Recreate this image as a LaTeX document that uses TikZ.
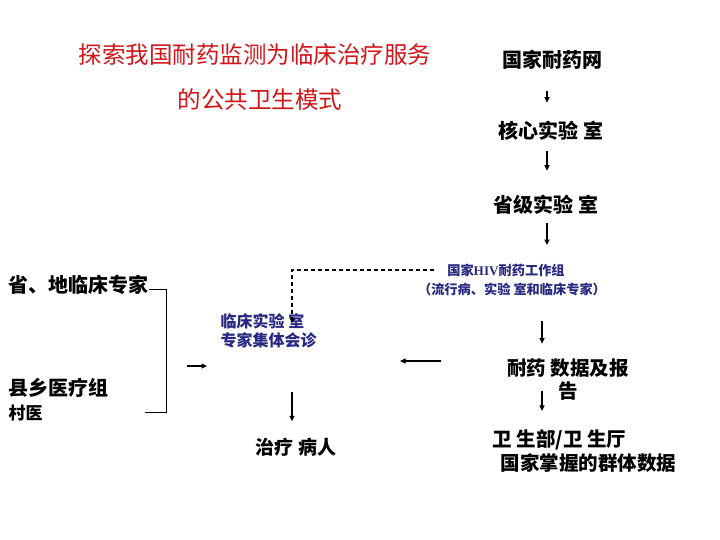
\documentclass[tikz,border=0pt]{standalone}
\usepackage{fontspec}
\usetikzlibrary{arrows.meta}
\setmainfont{Noto Sans CJK SC}
\newfontfamily\hivfont{Liberation Serif}
\definecolor{titlered}{RGB}{208,22,26}
\definecolor{navyblue}{RGB}{40,40,130}
\tikzset{
  titletext/.style={inner sep=0pt,text=titlered,font=\fontsize{23.5}{28}\selectfont},
  lbl/.style={inner sep=0pt,font=\bfseries\fontsize{20}{23}\selectfont},
  bluetext/.style={inner sep=0pt,text=navyblue,font=\bfseries\fontsize{16}{19}\selectfont},
  smallblue/.style={inner sep=0pt,text=navyblue,font=\bfseries\fontsize{13.2}{16}\selectfont},
}
\begin{document}
\begin{tikzpicture}[x=1pt,y=-1pt,>={Triangle[length=5.5pt,width=5pt]},line width=1.2pt]
				\useasboundingbox (0,0) rectangle (720,540);
				% title
				\node[titletext] (title1) at (255,55) {探索我国耐药监测为临床治疗服务};
				\node[titletext] (title2) at (260,100) {的公共卫生模式};
				% right column
				\node[lbl] (net) at (552,60) {国家耐药网};
				\node[lbl] (core) at (551,131) {核心实验 室};
				\node[lbl] (provlab) at (546,205) {省级实验 室};
				\node[smallblue] (hiv) at (506,270) {国家{\hivfont HIV}耐药工作组};
				\node[smallblue] (hivsub) at (512,289) {（流行病、实验 室和临床专家）};
				\node[lbl,font=\bfseries\fontsize{19.5}{23}\selectfont,align=center] (report) at (568,380) {耐药 数据及报\\告};
				\node[lbl,font=\bfseries\fontsize{19.5}{24}\selectfont,align=left,anchor=west] (moh) at (492,451) {卫 生部/卫 生厅\\\hspace{8pt}国家掌握的群体数据};
				% left side
				\node[lbl,anchor=west] (expert) at (8,285) {省、地临床专家};
				\node[lbl,anchor=west] (county) at (8,388) {县乡医疗组};
				\node[lbl,anchor=west,font=\bfseries\fontsize{17}{20}\selectfont] (village) at (8,413) {村医};
				\node[bluetext,align=left,anchor=west] (clin) at (220,331) {临床实验 室\\专家集体会诊};
				\node[lbl,font=\bfseries\fontsize{19}{22}\selectfont] (treat) at (296,447) {治疗 病人};
				% connectors
				\coordinate (axis) at (547,0);
				\coordinate (axisb) at (542,0);
				\coordinate (dash) at (292,0);
				\draw[->,shorten <=21pt,shorten >=18pt] (net.south -| axis) -- (core.north -| axis);
				\draw[->,shorten <=10pt,shorten >=24pt] (core.south -| axis) -- (provlab.north -| axis);
				\draw[->,shorten <=8pt,shorten >=18pt] (provlab.south -| axis) -- (hiv.north -| axis);
				\draw[->,shorten <=25pt,shorten >=15pt] (hivsub.south -| axisb) -- (report.north -| axisb);
				\draw[->,shorten <=-10pt,shorten >=18pt] (report.south -| axisb) -- (moh.north -| axisb);
				\draw[->,shorten <=43pt,shorten >=16pt] (clin.south -| dash) -- (treat.north -| dash);
				\coordinate (dashend) at (292,323);
				\draw[dash pattern=on 4pt off 3pt,->,shorten <=13pt] (hiv.west) -| (dashend);
				\coordinate (brkb) at (166,412);
				\coordinate (brke) at (145,412);
				\draw[line width=1pt] ([yshift=-4pt]expert.east) -| (brkb) -- (brke);
				\coordinate (ina) at (187,366);
				\coordinate (inb) at (207,366);
				\draw[->] (ina) -- (inb);
				\coordinate (fba) at (441,361);
				\coordinate (fbb) at (400,361);
				\draw[->] (fba) -- (fbb);
			\end{tikzpicture}
\end{document}
